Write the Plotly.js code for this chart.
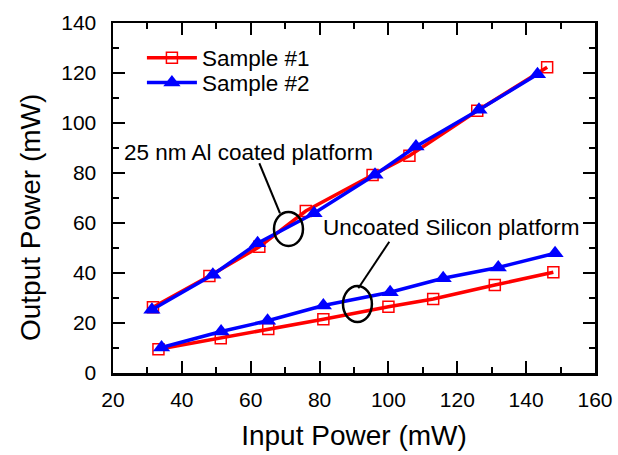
<!DOCTYPE html>
<html>
<head>
<meta charset="utf-8">
<script src="https://cdn.plot.ly/plotly-3.0.1.min.js"></script>
<style>html,body{margin:0;padding:0;background:#fff;}#chart{width:618px;height:455px;}</style>
</head>
<body>
<div id="chart"></div>
<script>
// Al-coated platform (upper curves)
var coatedS1X = [31.6, 48.0, 62.5, 76.0, 95.4, 106.1, 125.8, 146.1];
var coatedS1Y = [26.3, 38.8, 50.5, 64.8, 79.2, 86.9, 104.9, 122.3];
var coatedS2X = [31.3, 49.0, 62.0, 78.4, 96.1, 108.0, 126.3, 143.3];
var coatedS2Y = [25.3, 39.3, 51.9, 63.9, 79.3, 90.6, 105.3, 119.5];
// Uncoated silicon platform (lower curves)
var uncoatedS1X = [33.2, 51.3, 65.1, 81.1, 100.0, 113.0, 130.9, 147.9];
var uncoatedS1Y = [9.5, 13.9, 17.6, 21.5, 26.5, 29.6, 35.2, 40.3];
var uncoatedS2X = [34.1, 51.4, 64.9, 81.1, 100.5, 115.9, 131.9, 148.4];
var uncoatedS2Y = [10.2, 16.6, 20.9, 27.0, 32.3, 37.9, 42.2, 47.9];

var seriesNames = ["Sample #1", "Sample #2"];
var xTitle = "Input Power (mW)";
var yTitle = "Output Power (mW)";
var labelTexts = ["25 nm Al coated platform", "Uncoated Silicon platform"];
var labelPos = [[59.35, 88.4], [118.2, 58.4]];
var ellipses = [[66.76, 50.8, 75.18, 64.4], [86.8, 20.4, 95.2, 34.8]];
var leaders = [[62.5, 83.9, 68.5, 63.9], [100.25, 52.5, 91.25, 33.9]];

var FONT = "Liberation Sans, Arial, sans-serif";
var red = "#ff0000", blue = "#0000ff";

function s1(x, y, show) {
  return {x: x, y: y, type: "scatter", mode: "lines+markers", name: seriesNames[0],
    legend: "legend", showlegend: show,
    line: {color: red, width: 3.5},
    marker: {symbol: "square-open", size: 11, color: red, line: {width: 1.5, color: red}}};
}
function s2(x, y, show) {
  return {x: x, y: y, type: "scatter", mode: "lines+markers", name: seriesNames[1],
    legend: "legend2", showlegend: show,
    line: {color: blue, width: 3.5},
    marker: {symbol: "triangle-up", size: 15, color: blue}};
}

var data = [
  s1(coatedS1X, coatedS1Y, true),
  s2(coatedS2X, coatedS2Y, true),
  s1(uncoatedS1X, uncoatedS1Y, false),
  s2(uncoatedS2X, uncoatedS2Y, false)
];

var axisCommon = {
  showgrid: false, zeroline: false, showline: true, linecolor: "#000", linewidth: 2.5,
  mirror: "allticks", ticks: "inside", ticklen: 12, tickwidth: 2, tickcolor: "#000",
  tickfont: {family: FONT, size: 21, color: "#000"},
  minor: {ticks: "inside", ticklen: 6, tickwidth: 2, tickcolor: "#000", dtick: 10}
};

var xaxis = Object.assign({}, axisCommon, {
  range: [20, 160], dtick: 20, tick0: 0, ticklabelstandoff: 6,
  title: {text: xTitle, font: {family: FONT, size: 28, color: "#000"}, standoff: 16}
});
var yaxis = Object.assign({}, axisCommon, {
  range: [0, 140], dtick: 20, tick0: 0, ticklabelstandoff: 10
});

var shapes = [];
ellipses.forEach(function (e) {
  shapes.push({type: "circle", xref: "x", yref: "y", x0: e[0], y0: e[1], x1: e[2], y1: e[3],
    line: {color: "#000", width: 2.5}});
});
leaders.forEach(function (l) {
  shapes.push({type: "line", xref: "x", yref: "y", x0: l[0], y0: l[1], x1: l[2], y1: l[3],
    line: {color: "#000", width: 2}});
});

var annotations = labelTexts.map(function (t, i) {
  return {text: t, x: labelPos[i][0], y: labelPos[i][1], xref: "x", yref: "y",
    showarrow: false, font: {family: FONT, size: 22.5, color: "#000"}};
});
// y-axis title, placed slightly below the plot centre as in the reference
annotations.push({text: yTitle, xref: "paper", yref: "paper", x: -0.17, y: 0.443,
  xanchor: "center", yanchor: "middle", textangle: -90, showarrow: false,
  font: {family: FONT, size: 28, color: "#000"}});

var legendCommon = {xanchor: "left", yanchor: "middle", bgcolor: "rgba(0,0,0,0)",
  font: {family: FONT, size: 22.5, color: "#000"}, itemwidth: 50};

var layout = {
  width: 618, height: 455,
  margin: {l: 113, r: 23, t: 23, b: 82},
  paper_bgcolor: "#fff", plot_bgcolor: "#fff",
  font: {family: FONT, color: "#000"},
  xaxis: xaxis, yaxis: yaxis,
  shapes: shapes, annotations: annotations,
  showlegend: true,
  legend: Object.assign({x: 0.06, y: 0.9}, legendCommon),
  legend2: Object.assign({x: 0.06, y: 0.829}, legendCommon)
};

Plotly.newPlot("chart", data, layout, {displayModeBar: false, staticPlot: true});
</script>
</body>
</html>
